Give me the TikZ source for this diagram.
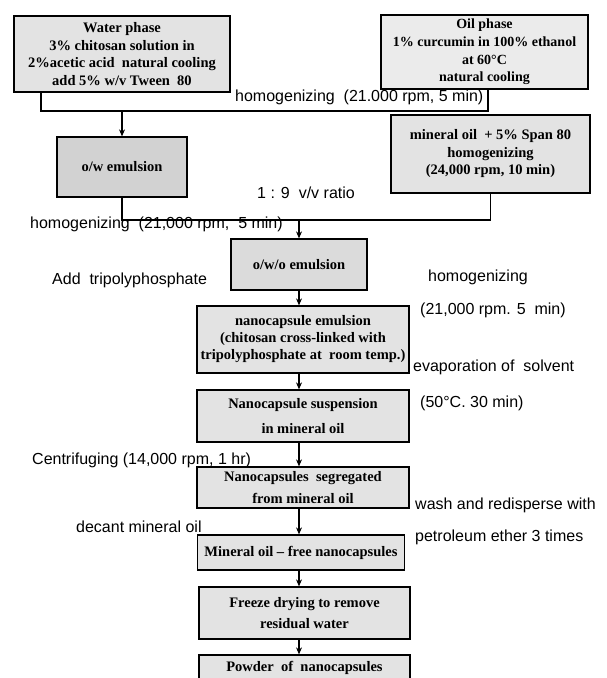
\documentclass[tikz,border=0pt]{standalone}
\usepackage{fontspec}
\setmainfont{Liberation Serif}
\setsansfont{Liberation Sans}
\usetikzlibrary{arrows.meta}

\tikzset{
  box/.style={draw, line width=1.3pt, fill=gray!22, inner sep=0pt, align=center,
    font=\fontsize{14.5}{17.5}\selectfont\bfseries},
  lbl/.style={anchor=west, inner sep=0pt, font=\sffamily\fontsize{16}{19}\selectfont},
  flow/.style={line width=1.1pt},
  arr/.style={flow, -{Stealth[length=7pt,width=6pt]}},
}

\begin{document}
\begin{tikzpicture}[x=1pt, y=-1pt]
\useasboundingbox (0,0) rectangle (606,678);
\clip (0,0) rectangle (606,678);

\node[box, minimum width=216pt, minimum height=76pt] (water) at (122,54)
  {Water phase\\3\% chitosan solution in\\2\%acetic acid\ \ natural cooling\\add 5\% w/v Tween\ \ 80};
\node[box, minimum width=207pt, minimum height=74pt, fill=gray!16,
  font=\fontsize{14}{17.7}\selectfont\bfseries] (oil) at (484.5,52)
  {Oil phase\\1\% curcumin in 100\% ethanol\\at 60°C\\natural cooling};
\node[box, minimum width=130pt, minimum height=60pt, fill=gray!35] (ow) at (122,167) {o/w emulsion};
\node[box, minimum width=199pt, minimum height=78pt] (mineral) at (490.5,154)
  {mineral oil\ \ + 5\% Span 80\\homogenizing\\(24,000 rpm, 10 min)};
\node[box, minimum width=136pt, minimum height=51pt, fill=gray!28] (owo) at (299,264.5) {o/w/o emulsion};
\node[box, minimum width=212pt, minimum height=67pt, font=\fontsize{14.5}{17}\selectfont\bfseries] (nanoemul) at (303,339.5)
  {nanocapsule emulsion\\(chitosan cross-linked with\\tripolyphosphate at\ \ room temp.)};
\node[box, minimum width=212pt, minimum height=52pt] (susp) at (303,416)
  {Nanocapsule suspension\\[7pt]in\ mineral oil};
\node[box, minimum width=212pt, minimum height=41pt] (seg) at (303,487.5)
  {Nanocapsules\ \ segregated\\[4pt]from mineral oil};
\node[box, minimum width=207pt, minimum height=35pt] (free) at (301,552.5)
  {Mineral oil -- free nanocapsules};
\node[box, minimum width=211pt, minimum height=52pt] (freeze) at (304.5,613)
  {Freeze drying to remove\\[4pt]residual water};
\node[box, minimum width=211pt, minimum height=26pt] (powder) at (304.5,668)
  {Powder\ \ of\ \ nanocapsules};

\node[lbl] (homtop) at (235,97) {homogenizing\ \ (21.000 rpm, 5 min)};
\node[lbl] (ratio) at (257,193) {1 : 9\hspace{9pt}v/v ratio};
\node[lbl] (homlow) at (30,224) {homogenizing\ \ (21,000 rpm,\ \ 5 min)};
\node[lbl] (addtpp) at (52,280) {Add\ \ tripolyphosphate};
\node[lbl] (homright) at (428,277) {homogenizing};
\node[lbl] (rpmright) at (420,310) {(21,000 rpm. 5\ \ min)};
\node[lbl] (evap) at (413,367) {evaporation of\ \ solvent};
\node[lbl] (temp) at (420,403) {(50°C. 30 min)};
\node[lbl] (centri) at (32,460) {Centrifuging (14,000 rpm, 1 hr)};
\node[lbl] (decant) at (76,527) {decant mineral oil};
\node[lbl] (wash) at (415,505) {wash and redisperse with};
\node[lbl] (petrol) at (415,537) {petroleum ether 3 times};

\coordinate (jw) at (41,111);
\coordinate (jo) at (488,111);
\coordinate (jm) at (299,220);

\draw[flow] (water.south -| jw) -- (jw) -- (jo) -- (oil.south -| jo);
\draw[arr] (ow.north |- jw) -- (ow.north);
\draw[flow] (ow.south) -- (ow.south |- jm) -- (jm);
\draw[flow] (mineral.south) -- (mineral.south |- jm) -- (jm);
\draw[arr] (jm) -- (owo.north -| jm);
\foreach \a/\b in {owo/nanoemul, nanoemul/susp, susp/seg, seg/free, free/freeze, freeze/powder}
  \draw[arr] (\a.south -| jm) -- (\b.north -| jm);
\end{tikzpicture}
\end{document}
